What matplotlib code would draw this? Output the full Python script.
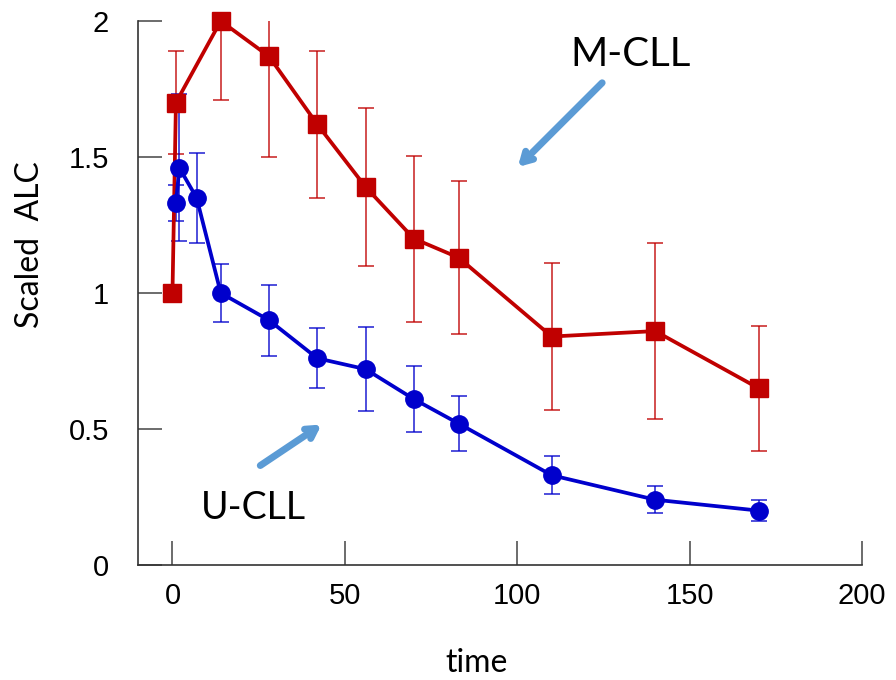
import matplotlib
matplotlib.use("Agg")
import matplotlib.pyplot as plt

# M-CLL (red squares)
m_time = [0, 1, 14, 28, 42, 56, 70, 83, 110, 140, 170]
m_alc = [1.0, 1.70, 2.0, 1.87, 1.62, 1.39, 1.20, 1.13, 0.84, 0.86, 0.65]
m_err = [0.0, 0.19, 0.29, 0.37, 0.27, 0.29, 0.305, 0.28, 0.27, 0.325, 0.23]

# U-CLL (blue circles)
u_time = [1, 2, 7, 14, 28, 42, 56, 70, 83, 110, 140, 170]
u_alc = [1.33, 1.46, 1.35, 1.0, 0.90, 0.76, 0.72, 0.61, 0.52, 0.33, 0.24, 0.20]
u_err = [0.066, 0.27, 0.165, 0.105, 0.13, 0.11, 0.155, 0.12, 0.10, 0.07, 0.05, 0.04]

xticks = [0, 50, 100, 150, 200]
yticks = [0, 0.5, 1, 1.5, 2]
ytick_labels = ["0", "0.5", "1", "1.5", "2"]

red = "#C00000"
blue = "#0000CC"
arrow_col = "#5B9BD5"

fig = plt.figure(figsize=(8.96, 6.8), dpi=100)
ax = fig.add_axes([138/896, 1 - 565/680, 724/896, 544/680])

# error bars (clipped at the axes), then lines + markers on top
ax.errorbar(m_time, m_alc, yerr=m_err, fmt="none", ecolor=red, elinewidth=1.3,
            capsize=6, capthick=1.3, alpha=0.75)
ax.errorbar(u_time, u_alc, yerr=u_err, fmt="none", ecolor=blue, elinewidth=1.3,
            capsize=6, capthick=1.3, alpha=0.75)
ax.plot(m_time, m_alc, color=red, lw=2.7, marker="s", ms=13, clip_on=False, zorder=3)
ax.plot(u_time, u_alc, color=blue, lw=2.7, marker="o", ms=12.5, clip_on=False, zorder=3)

ax.set_xlim(-10, 200)
ax.set_ylim(0, 2)
ax.set_xticks(xticks)
ax.set_yticks(yticks)
ax.set_yticklabels(ytick_labels)
ax.spines["top"].set_visible(False)
ax.spines["right"].set_visible(False)
for s in ["left", "bottom"]:
    ax.spines[s].set_color("#333333")
    ax.spines[s].set_linewidth(1.2)
ax.tick_params(direction="in", length=17, width=1.1, color="#444444")
ax.tick_params(axis="y", pad=21)
ax.tick_params(axis="x", pad=12)
for lab in ax.get_yticklabels():
    lab.set_fontfamily("Liberation Sans")
    lab.set_fontsize(21)
for lab in ax.get_xticklabels():
    lab.set_fontfamily("Liberation Sans")
    lab.set_fontsize(21)

fig.text(30/896, 1 - 245/680, "Scaled  ALC", rotation=90, ha="center", va="center",
         fontsize=23, family="Lato")
fig.text(477/896, 1 - 663/680, "time", ha="center", va="center", fontsize=23, family="Lato")

ax.text(133, 1.875, "M-CLL", ha="center", va="center", fontsize=29, family="Lato")
ax.text(23.6, 0.21, "U-CLL", ha="center", va="center", fontsize=27, family="Lato")

ax.annotate("", xy=(99.6, 1.456), xytext=(125.2, 1.78),
            arrowprops=dict(arrowstyle="->,head_length=0.7,head_width=0.4",
                            color=arrow_col, lw=5))
ax.annotate("", xy=(43.9, 0.522), xytext=(24.8, 0.36),
            arrowprops=dict(arrowstyle="->,head_length=0.7,head_width=0.4",
                            color=arrow_col, lw=5))

fig.savefig("out.png", dpi=100)
